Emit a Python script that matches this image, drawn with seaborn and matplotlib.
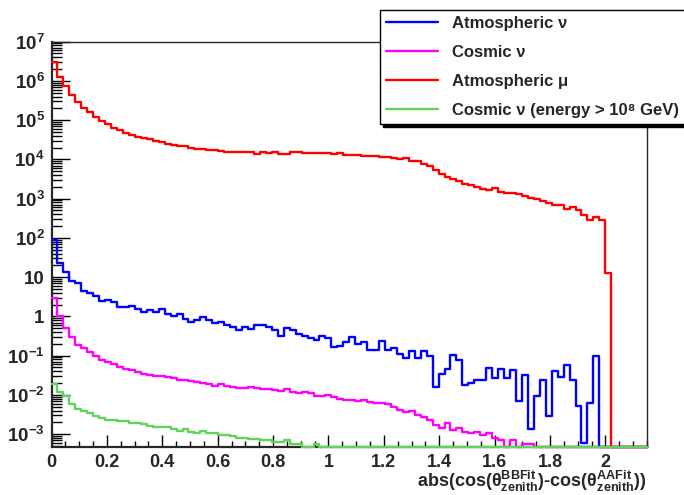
import numpy as np
import pandas as pd
import matplotlib
matplotlib.use("Agg")
import matplotlib.pyplot as plt
import matplotlib.ticker as mticker
from matplotlib.lines import Line2D
import seaborn as sns

# 100 bins on [0, 2.15]; contents given as log10 (None = empty bin)
X_MIN, X_MAX, N_BINS = 0.0, 2.15, 100
Y_MIN, Y_MAX = 4.8e-4, 1e7

atm_nu = [1.94, 1.36, 1.13, 0.91, 0.85, 0.66, 0.60, 0.53, 0.40, 0.43,
          0.36, 0.24, 0.24, 0.27, 0.19, 0.11, 0.16, 0.11, 0.19, 0.06,
          0.00, 0.05, -0.06, -0.15, -0.08, -0.01, -0.08, -0.17, -0.15, -0.21,
          -0.27, -0.34, -0.27, -0.32, -0.21, -0.23, -0.27, -0.35, -0.49, -0.29,
          -0.34, -0.46, -0.51, -0.55, -0.59, -0.51, -0.55, -0.78, -0.76, -0.66,
          -0.52, -0.69, -0.66, -0.86, -0.85, -0.63, -0.85, -0.80, -0.97, -1.07,
          -0.89, -1.07, -0.87, -1.02, -1.80, -1.46, -1.34, -0.99, -1.10, -1.75,
          -1.69, -1.61, -1.61, -1.31, -1.58, -1.33, -1.57, -1.37, -2.16, -1.48,
          -2.86, -2.02, -1.63, -2.54, -1.38, -1.54, -1.23, -1.63, -2.27, -3.22,
          -2.20, -1.00] + [None] * 8

cosmic_nu = [0.47, 0.00, -0.29, -0.52, -0.72, -0.80, -0.91, -1.00, -1.12, -1.17,
             -1.20, -1.29, -1.33, -1.37, -1.42, -1.46, -1.48, -1.51, -1.52, -1.54,
             -1.58, -1.61, -1.63, -1.65, -1.67, -1.69, -1.71, -1.76, -1.72, -1.78,
             -1.79, -1.82, -1.82, -1.80, -1.82, -1.84, -1.86, -1.88, -1.90, -1.86,
             -1.93, -1.95, -1.93, -1.95, -2.03, -2.03, -2.01, -2.06, -2.10, -2.12,
             -2.14, -2.15, -2.14, -2.18, -2.20, -2.21, -2.22, -2.31, -2.38, -2.44,
             -2.42, -2.50, -2.56, -2.64, -2.77, -2.83, -2.72, -2.90, -2.84, -2.94,
             -2.98, -2.95, -3.01, -2.97, -3.10, -3.15, None, -3.16, None, -3.26,
             -3.26] + [None] * 19

atm_mu = [6.48, 6.09, 5.86, 5.63, 5.47, 5.32, 5.20, 5.09, 4.99, 4.91,
          4.81, 4.74, 4.67, 4.62, 4.58, 4.55, 4.52, 4.48, 4.45, 4.39,
          4.38, 4.33, 4.33, 4.30, 4.27, 4.27, 4.24, 4.24, 4.22, 4.19,
          4.19, 4.19, 4.19, 4.19, 4.15, 4.19, 4.16, 4.19, 4.15, 4.15,
          4.19, 4.19, 4.16, 4.16, 4.16, 4.16, 4.16, 4.13, 4.17, 4.12,
          4.12, 4.12, 4.09, 4.09, 4.09, 4.05, 4.05, 4.03, 4.01, 4.03,
          3.97, 3.97, 3.89, 3.84, 3.74, 3.63, 3.54, 3.50, 3.44, 3.38,
          3.35, 3.30, 3.25, 3.21, 3.27, 3.18, 3.14, 3.14, 3.12, 3.06,
          3.02, 2.99, 2.93, 2.89, 2.83, 2.83, 2.74, 2.78, 2.70, 2.59,
          2.46, 2.53, 2.46, 1.11] + [None] * 6

cosmic_nu_uhe = [-1.71, -1.93, -2.03, -2.24, -2.35, -2.41, -2.47, -2.54, -2.58, -2.63,
                 -2.63, -2.67, -2.67, -2.71, -2.71, -2.74, -2.78, -2.81, -2.81, -2.81,
                 -2.86, -2.92, -2.88, -2.94, -2.96, -2.92, -2.98, -2.98, -3.01, -3.01,
                 -3.05, -3.09, -3.09, -3.12, -3.12, -3.15, -3.15, -3.19, -3.19, -3.16,
                 -3.24, -3.24, None, None, -3.25] + [None] * 55

labels = ["Atmospheric ν", "Cosmic ν", "Atmospheric μ",
          "Cosmic ν (energy > 10⁸ GeV)"]
colors = ["#0000ff", "#ff00ff", "#ff0000", "#5fd35a"]

y_ticks = [10.0 ** k for k in range(-3, 8)]
y_ticklabels = ["$10^{-3}$", "$10^{-2}$", "$10^{-1}$", "1", "10",
                "$10^{2}$", "$10^{3}$", "$10^{4}$", "$10^{5}$", "$10^{6}$", "$10^{7}$"]

sns.set_style("ticks")
plt.rcParams.update({
    "font.family": ["Liberation Sans", "DejaVu Sans"],
    "font.weight": "bold",
    "axes.labelweight": "bold",
    "mathtext.fontset": "custom",
    "mathtext.rm": "Liberation Sans:bold",
    "mathtext.it": "Liberation Sans:bold",
    "mathtext.bf": "Liberation Sans:bold",
    "mathtext.default": "rm",
})

edges = np.linspace(X_MIN, X_MAX, N_BINS + 1)
centers = 0.5 * (edges[:-1] + edges[1:])

fig = plt.figure(figsize=(6.84, 4.95), dpi=100)
ax = fig.add_axes([0.0753, 0.0976, 0.8706, 0.8182])

for logs, color in zip([atm_nu, cosmic_nu, atm_mu, cosmic_nu_uhe], colors):
    w = np.array([10.0 ** v if v is not None else 0.0 for v in logs])
    # empty bins sit on the frame bottom, like ROOT does on a log axis
    w = np.maximum(w, Y_MIN)
    df = pd.DataFrame({"x": centers, "w": w})
    sns.histplot(data=df, x="x", weights="w", bins=list(edges), element="step",
                 fill=False, color=color, linewidth=1.7, clip_on=False, zorder=3, ax=ax)

ax.set_yscale("log")
ax.set_xlim(X_MIN, X_MAX)
ax.set_ylim(Y_MIN, Y_MAX)
ax.set_ylabel("")

ax.xaxis.set_major_locator(mticker.MultipleLocator(0.2))
ax.xaxis.set_minor_locator(mticker.MultipleLocator(0.05))
ax.xaxis.set_major_formatter(mticker.FuncFormatter(lambda v, p: f"{v:g}"))
ax.yaxis.set_major_locator(mticker.FixedLocator(y_ticks))
ax.yaxis.set_major_formatter(mticker.FixedFormatter(y_ticklabels))
ax.yaxis.set_minor_locator(mticker.LogLocator(base=10, subs=np.arange(2, 10), numticks=50))
ax.yaxis.set_minor_formatter(mticker.NullFormatter())

ax.tick_params(which="both", direction="in", top=False, right=False, color="black")
ax.tick_params(axis="x", which="major", length=9, width=1, labelsize=13, pad=5)
ax.tick_params(axis="x", which="minor", length=4.5, width=1)
ax.tick_params(axis="y", which="major", length=13, width=1, labelsize=13.5, pad=5)
ax.tick_params(axis="y", which="minor", length=7, width=1)

for side in ["left", "bottom"]:
    ax.spines[side].set_linewidth(1.6)
for side in ["top", "right"]:
    ax.spines[side].set_linewidth(1.0)

ax.set_xlabel(r"abs(cos($\theta^{BBFit}_{zenith}$)-cos($\theta^{AAFit}_{zenith}$))",
              loc="right", fontsize=13, fontweight="bold", labelpad=-1)

handles = [Line2D([], [], color=c, linewidth=1.7) for c in colors]
leg = ax.legend(handles, labels, loc="upper left",
                bbox_to_anchor=(380 / 684, 1 - 10 / 495), bbox_transform=fig.transFigure,
                frameon=True, fancybox=False, shadow={"color": "black", "alpha": 1},
                edgecolor="black", framealpha=1, fontsize=12, handlelength=3.1,
                handletextpad=0.9, labelspacing=0.85, borderpad=0.35, borderaxespad=0)
leg.get_frame().set_linewidth(1.0)

fig.savefig("out.png", dpi=100)
